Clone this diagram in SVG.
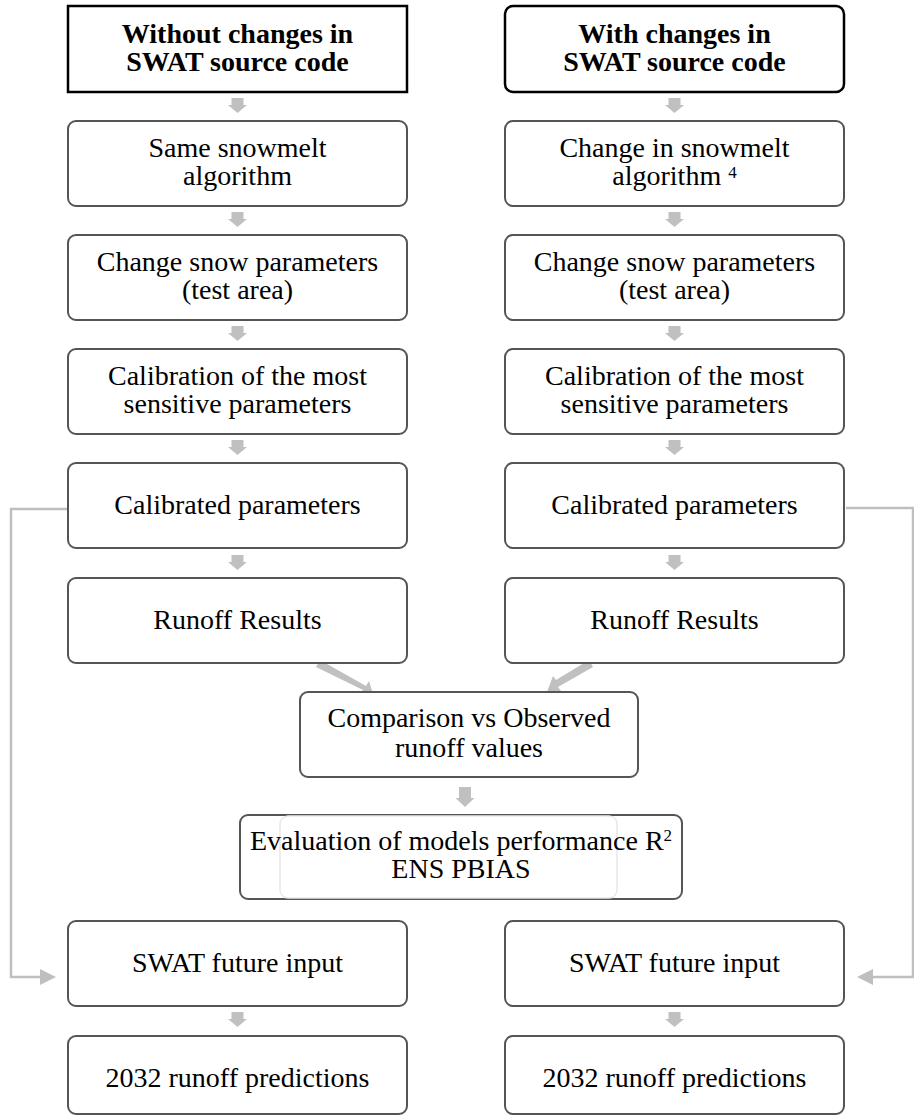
<svg xmlns="http://www.w3.org/2000/svg" width="914" height="1118" viewBox="0 0 914 1118">
<style>
.box{fill:#fff;stroke:#555;stroke-width:2}
.top{fill:#fff;stroke:#000;stroke-width:2.5}
text{font-family:'Liberation Serif','Times New Roman',Times,serif;font-size:28px;fill:#000;text-anchor:middle}
.b{font-weight:bold}
.arr{fill:#c0c0c0}
.fb{fill:none;stroke:#bfbfbf;stroke-width:2.5}
.sup{font-size:17px}
</style>
<rect width="914" height="1118" fill="#fff"/>
<g id="connectors">
  <g class="arr">
    <path d="M231.5 98h12v7h3.5l-9.5 8l-9.5-8h3.5z"/>
    <path d="M231.5 212h12v7h3.5l-9.5 8l-9.5-8h3.5z"/>
    <path d="M231.5 326h12v7h3.5l-9.5 8l-9.5-8h3.5z"/>
    <path d="M231.5 440h12v7h3.5l-9.5 8l-9.5-8h3.5z"/>
    <path d="M231.5 555h12v7h3.5l-9.5 8l-9.5-8h3.5z"/>
    <path d="M231.5 1012h12v7h3.5l-9.5 8l-9.5-8h3.5z"/>
    <path d="M668.5 98h12v7h3.5l-9.5 8l-9.5-8h3.5z"/>
    <path d="M668.5 212h12v7h3.5l-9.5 8l-9.5-8h3.5z"/>
    <path d="M668.5 326h12v7h3.5l-9.5 8l-9.5-8h3.5z"/>
    <path d="M668.5 440h12v7h3.5l-9.5 8l-9.5-8h3.5z"/>
    <path d="M668.5 555h12v7h3.5l-9.5 8l-9.5-8h3.5z"/>
    <path d="M668.5 1012h12v7h3.5l-9.5 8l-9.5-8h3.5z"/>
    <path d="M459 787h12v11h3.5l-9.5 9l-9.5-9h3.5z"/>
    <path d="M320 660 L366 686 L369 681 L373 694 L360 695 L363 690 L316 667 Z"/>
    <path d="M589 660 L556 680 L553 676 L547 692 L561 691 L558 687 L593 667 Z"/>
  </g>
  <path class="fb" d="M68 509H11V977H42"/>
  <path d="M56 977l-16-8v16z" fill="#bfbfbf"/>
  <path class="fb" d="M846 508H913V977H871"/>
  <path d="M857 977l16-8v16z" fill="#bfbfbf"/>
</g>
<g id="n-left-1"><rect class="top" x="68" y="6" width="339" height="86"/>
  <text class="b" x="237.5" y="43">Without changes in</text><text class="b" x="237.5" y="71">SWAT source code</text></g>
<g id="n-right-1"><rect class="top" x="505" y="6" width="339" height="86" rx="8"/>
  <text class="b" x="674.5" y="43">With changes in</text><text class="b" x="674.5" y="71">SWAT source code</text></g>
<g id="n-left-2"><rect class="box" x="68" y="121" width="339" height="85" rx="8"/>
  <text x="237.5" y="157">Same snowmelt</text><text x="237.5" y="185">algorithm</text></g>
<g id="n-right-2"><rect class="box" x="505" y="121" width="339" height="85" rx="8"/>
  <text x="674.5" y="157">Change in snowmelt</text><text x="674.5" y="185">algorithm <tspan class="sup" baseline-shift="7">4</tspan></text></g>
<g id="n-left-3"><rect class="box" x="68" y="235" width="339" height="85" rx="8"/>
  <text x="237.5" y="271">Change snow parameters</text><text x="237.5" y="299">(test area)</text></g>
<g id="n-right-3"><rect class="box" x="505" y="235" width="339" height="85" rx="8"/>
  <text x="674.5" y="271">Change snow parameters</text><text x="674.5" y="299">(test area)</text></g>
<g id="n-left-4"><rect class="box" x="68" y="349" width="339" height="85" rx="8"/>
  <text x="237.5" y="385">Calibration of the most</text><text x="237.5" y="413">sensitive parameters</text></g>
<g id="n-right-4"><rect class="box" x="505" y="349" width="339" height="85" rx="8"/>
  <text x="674.5" y="385">Calibration of the most</text><text x="674.5" y="413">sensitive parameters</text></g>
<g id="n-left-5"><rect class="box" x="68" y="463" width="339" height="85" rx="8"/>
  <text x="237.5" y="514">Calibrated parameters</text></g>
<g id="n-right-5"><rect class="box" x="505" y="463" width="339" height="85" rx="8"/>
  <text x="674.5" y="514">Calibrated parameters</text></g>
<g id="n-left-6"><rect class="box" x="68" y="578" width="339" height="85" rx="8"/>
  <text x="237.5" y="629">Runoff Results</text></g>
<g id="n-right-6"><rect class="box" x="505" y="578" width="339" height="85" rx="8"/>
  <text x="674.5" y="629">Runoff Results</text></g>
<g id="n-comparison"><rect class="box" x="300" y="692" width="338" height="85" rx="8"/>
  <text x="469" y="727">Comparison vs Observed</text><text x="469" y="757">runoff values</text></g>
<g id="n-evaluation"><rect class="box" x="240" y="815" width="442" height="84" rx="8"/>
  <rect x="280" y="816" width="337" height="82" rx="8" fill="none" stroke="#e8e8e8" stroke-width="1.5"/>
  <text x="461" y="850">Evaluation of models performance R<tspan class="sup" baseline-shift="9">2</tspan></text><text x="461" y="878">ENS PBIAS</text></g>
<g id="n-left-7"><rect class="box" x="68" y="921" width="339" height="85" rx="8"/>
  <text x="237.5" y="972">SWAT future input</text></g>
<g id="n-right-7"><rect class="box" x="505" y="921" width="339" height="85" rx="8"/>
  <text x="674.5" y="972">SWAT future input</text></g>
<g id="n-left-8"><rect class="box" x="68" y="1036" width="339" height="78" rx="8"/>
  <text x="237.5" y="1087">2032 runoff predictions</text></g>
<g id="n-right-8"><rect class="box" x="505" y="1036" width="339" height="78" rx="8"/>
  <text x="674.5" y="1087">2032 runoff predictions</text></g>
</svg>
